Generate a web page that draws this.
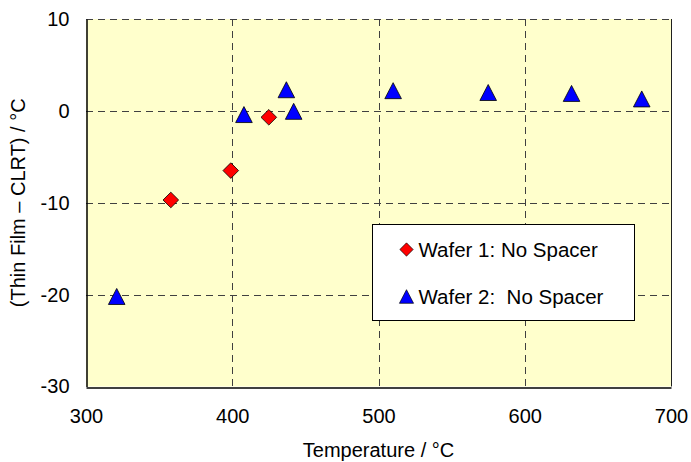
<!DOCTYPE html>
<html>
<head>
<meta charset="utf-8">
<script src="https://cdn.jsdelivr.net/npm/d3@7"></script>
<style>
  body { margin: 0; background: #fff; }
  svg { display: block; font-family: "Liberation Sans", Arial, sans-serif; }
</style>
</head>
<body>
<div id="svg-container"></div>
<script>
// Data
const wafer1Temp = [358, 399, 425];
const wafer1Diff = [-9.7, -6.5, -0.7];
const wafer2Temp = [321, 408, 437, 442, 510, 575, 632, 680];
const wafer2Diff = [-20.2, -0.4, 2.3, -0.05, 2.2, 2.0, 1.9, 1.3];
const xTicks = [300, 400, 500, 600, 700];
const yTicks = [-30, -20, -10, 0, 10];
const seriesNames = ["Wafer 1: No Spacer", "Wafer 2:  No Spacer"];

const width = 691;
const height = 462;
const margin = { top: 19, right: 20, bottom: 75.5, left: 86 };

const svg = d3
  .select("#svg-container")
  .append("svg")
  .attr("width", width)
  .attr("height", height);

const xScale = d3
  .scaleLinear()
  .domain([300, 700])
  .range([margin.left, width - margin.right]);
const yScale = d3
  .scaleLinear()
  .domain([-30, 10])
  .range([height - margin.bottom, margin.top]);

const x0 = xScale.range()[0], x1 = xScale.range()[1];
const y0 = yScale.range()[0], y1 = yScale.range()[1];

// plot background
svg
  .append("rect")
  .attr("x", x0)
  .attr("y", y1)
  .attr("width", x1 - x0)
  .attr("height", y0 - y1)
  .attr("fill", "#ffffcc");

// dashed gridlines
const gridColor = "#404040";
svg
  .append("g")
  .selectAll("line")
  .data(xTicks.slice(1, -1))
  .enter()
  .append("line")
  .attr("x1", (d) => Math.round(xScale(d)) + 0.5)
  .attr("x2", (d) => Math.round(xScale(d)) + 0.5)
  .attr("y1", y1)
  .attr("y2", y0)
  .attr("stroke", gridColor)
  .attr("stroke-dasharray", "7,5");

svg
  .append("g")
  .selectAll("line")
  .data(yTicks.slice(1))
  .enter()
  .append("line")
  .attr("x1", x0)
  .attr("x2", x1)
  .attr("y1", (d) => Math.round(yScale(d)) + 0.5)
  .attr("y2", (d) => Math.round(yScale(d)) + 0.5)
  .attr("stroke", gridColor)
  .attr("stroke-dasharray", "7,5");

// right border
svg
  .append("line")
  .attr("x1", Math.round(x1) + 0.5)
  .attr("x2", Math.round(x1) + 0.5)
  .attr("y1", y1)
  .attr("y2", y0)
  .attr("stroke", "#202020");

// axes (plain hyphen for negatives, like the original)
const xAxis = d3
  .axisBottom(xScale)
  .tickValues(xTicks)
  .tickFormat((d) => String(d))
  .tickSize(0)
  .tickPadding(21);
const yAxis = d3
  .axisLeft(yScale)
  .tickValues(yTicks)
  .tickFormat((d) => String(d))
  .tickSize(0)
  .tickPadding(17);

const gx = svg
  .append("g")
  .attr("transform", `translate(0,${Math.round(y0) + 0.5})`)
  .call(xAxis);
const gy = svg
  .append("g")
  .attr("transform", `translate(${Math.round(x0) + 0.5},0)`)
  .call(yAxis);

[gx, gy].forEach((g) => {
  g.select(".domain").attr("stroke", "#000").attr("stroke-width", 1.5);
  g.selectAll("text")
    .attr("font-size", 20)
    .attr("font-family", "Liberation Sans, Arial, sans-serif")
    .attr("fill", "#000");
});

// axis titles
svg
  .append("text")
  .attr("x", (x0 + x1) / 2)
  .attr("y", 457)
  .attr("text-anchor", "middle")
  .attr("font-size", 20)
  .text("Temperature / °C");

svg
  .append("text")
  .attr("transform", `translate(25,${(y0 + y1) / 2}) rotate(-90)`)
  .attr("text-anchor", "middle")
  .attr("font-size", 20)
  .text("(Thin Film – CLRT) / °C");

// marker shapes
const diamond = "M0,-7.8L7.8,0L0,7.8L-7.8,0Z";
const triangle = "M0,-8L8.3,8L-8.3,8Z";

const wafer1 = wafer1Temp.map((t, i) => ({ t: t, v: wafer1Diff[i] }));
const wafer2 = wafer2Temp.map((t, i) => ({ t: t, v: wafer2Diff[i] }));

svg
  .append("g")
  .selectAll("path")
  .data(wafer1)
  .enter()
  .append("path")
  .attr("d", diamond)
  .attr("transform", (d) => `translate(${xScale(d.t)},${yScale(d.v)})`)
  .attr("fill", "#ff0000")
  .attr("stroke", "#000")
  .attr("stroke-width", 0.8);

svg
  .append("g")
  .selectAll("path")
  .data(wafer2)
  .enter()
  .append("path")
  .attr("d", triangle)
  .attr("transform", (d) => `translate(${xScale(d.t)},${yScale(d.v)})`)
  .attr("fill", "#0000ff")
  .attr("stroke", "#000")
  .attr("stroke-width", 0.8);

// legend
const legend = svg.append("g").attr("transform", "translate(372.5,224.5)");
legend
  .append("rect")
  .attr("width", 262)
  .attr("height", 96)
  .attr("fill", "#fff")
  .attr("stroke", "#000");

const legendItems = [
  { name: seriesNames[0], shape: diamond, fill: "#ff0000", y: 25 },
  { name: seriesNames[1], shape: triangle, fill: "#0000ff", y: 72 },
];
legendItems.forEach((item) => {
  legend
    .append("path")
    .attr("d", item.shape)
    .attr("transform", `translate(34,${item.y}) scale(0.85)`)
    .attr("fill", item.fill)
    .attr("stroke", "#000")
    .attr("stroke-width", 0.8);
  legend
    .append("text")
    .attr("x", 46)
    .attr("y", item.y)
    .attr("dy", "0.36em")
    .attr("font-size", 20.5)
    .attr("xml:space", "preserve")
    .style("white-space", "pre")
    .text(item.name);
});
</script>
</body>
</html>
